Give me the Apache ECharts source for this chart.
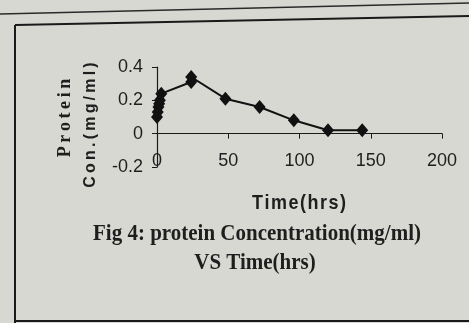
<!DOCTYPE html>
<html>
<head>
<meta charset="utf-8">
<script src="https://cdn.jsdelivr.net/npm/echarts@6/dist/echarts.min.js"></script>
<style>
  html, body { margin: 0; padding: 0; background: #d8d8d3; }
  #canvas { width: 469px; height: 323px; }
</style>
</head>
<body>
<div id="canvas"></div>
<script>
// time (hrs) and protein concentration (mg/ml)
var timeHrs = [0, 0.5, 1, 1.5, 2, 3, 24, 24, 48, 72, 96, 120, 144];
var proteinConc = [0.10, 0.13, 0.16, 0.18, 0.20, 0.24, 0.31, 0.34, 0.21, 0.16, 0.08, 0.02, 0.02];

var xTicks = [0, 50, 100, 150, 200];
var yTicks = [-0.2, 0, 0.2, 0.4];

var yTitleTop = 'Protein';
var yTitleBottom = 'Con.(mg/ml)';
var xTitle = 'Time(hrs)';
var captionLine1 = 'Fig 4: protein Concentration(mg/ml)';
var captionLine2 = 'VS Time(hrs)';

// wide letter spacing like the printed figure
function spaced(s, gap) {
    return s.split('').join(gap || '\u2009');
}

function drawData() {
    var myChart = echarts.init(document.getElementById('canvas'));

    var data = timeHrs.map(function (t, i) { return [t, proteinConc[i]]; });

    var option = {
        backgroundColor: '#d8d8d3',
        animation: false,
        grid: { left: 157, right: 27, top: 67, bottom: 156 },
        xAxis: [{
            type: 'value',
            min: xTicks[0],
            max: xTicks[xTicks.length - 1],
            interval: 50,
            axisLine: { show: true, onZero: true, lineStyle: { color: '#1a1a1a', width: 1.2 } },
            axisTick: { show: true, length: 5, lineStyle: { color: '#1a1a1a' } },
            axisLabel: { show: false },
            splitLine: { show: false }
        }, {
            type: 'value',
            position: 'bottom',
            min: xTicks[0],
            max: xTicks[xTicks.length - 1],
            interval: 50,
            axisLine: { show: false, onZero: false },
            axisTick: { show: false },
            axisLabel: {
                margin: -15,
                color: '#1e1e1e',
                fontFamily: 'Liberation Sans',
                fontSize: 18
            },
            splitLine: { show: false }
        }],
        yAxis: {
            type: 'value',
            min: yTicks[0],
            max: yTicks[yTicks.length - 1],
            interval: 0.2,
            axisLine: { show: true, onZero: false, lineStyle: { color: '#1a1a1a', width: 1.2 } },
            axisTick: { show: true, length: 5, lineStyle: { color: '#1a1a1a' } },
            axisLabel: {
                margin: 14,
                color: '#1e1e1e',
                fontFamily: 'Liberation Sans',
                fontSize: 18,
                formatter: function (v) { return String(Math.round(v * 10) / 10); }
            },
            splitLine: { show: false }
        },
        series: [{
            type: 'line',
            xAxisIndex: 0,
            data: data,
            symbol: 'diamond',
            symbolSize: [12, 14],
            showAllSymbol: true,
            itemStyle: { color: '#111' },
            lineStyle: { color: '#111', width: 2 }
        }],
        graphic: [
            { type: 'line', shape: { x1: 0, y1: 14, x2: 469, y2: 3 }, style: { stroke: '#2a2a2a', lineWidth: 1.5 } },
            { type: 'line', shape: { x1: 15, y1: 25, x2: 469, y2: 16 }, style: { stroke: '#1a1a1a', lineWidth: 2 } },
            { type: 'line', shape: { x1: 15, y1: 25, x2: 15, y2: 323 }, style: { stroke: '#1a1a1a', lineWidth: 2 } },
            { type: 'line', shape: { x1: 15, y1: 321, x2: 469, y2: 321 }, style: { stroke: '#1a1a1a', lineWidth: 2 } },
            {
                type: 'text', x: 65, y: 118, rotation: Math.PI / 2,
                style: {
                    text: spaced(yTitleTop), x: 0, y: 0, align: 'center', verticalAlign: 'middle',
                    font: 'bold 18px "Liberation Serif"', fill: '#1e1e1e'
                }
            },
            {
                type: 'text', x: 91, y: 125, rotation: Math.PI / 2,
                style: {
                    text: spaced(yTitleBottom), x: 0, y: 0, align: 'center', verticalAlign: 'middle',
                    font: 'bold 16px "Liberation Sans"', fill: '#1e1e1e'
                }
            },
            {
                type: 'text', x: 299, y: 204, scaleY: 1.1,
                style: {
                    text: spaced(xTitle, '\u200a'), x: 0, y: 0, align: 'center', verticalAlign: 'middle',
                    font: 'bold 18px "Liberation Sans"', fill: '#1e1e1e'
                }
            },
            {
                type: 'text', x: 257, y: 234, scaleY: 1.12,
                style: {
                    text: captionLine1, x: 0, y: 0, align: 'center', verticalAlign: 'middle',
                    font: 'bold 21px "Liberation Serif"', fill: '#1e1e1e'
                }
            },
            {
                type: 'text', x: 255, y: 263, scaleY: 1.12,
                style: {
                    text: captionLine2, x: 0, y: 0, align: 'center', verticalAlign: 'middle',
                    font: 'bold 21px "Liberation Serif"', fill: '#1e1e1e'
                }
            }
        ]
    };

    myChart.setOption(option);
}

drawData();
</script>
</body>
</html>
